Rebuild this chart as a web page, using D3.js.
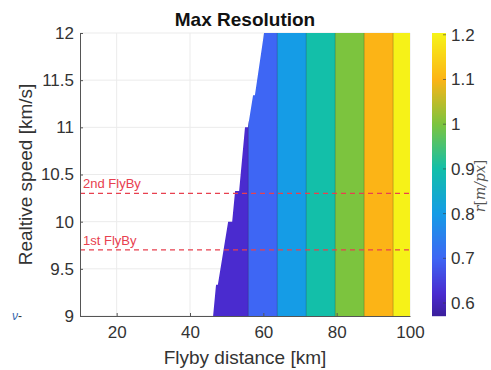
<!DOCTYPE html>
<html>
<head>
<meta charset="utf-8">
<script src="https://cdn.jsdelivr.net/npm/d3@7/dist/d3.min.js"></script>
<style>
  html, body { margin: 0; padding: 0; background: #fff; }
  svg { display: block; font-family: 'Liberation Sans', Arial, sans-serif; }
</style>
</head>
<body>
<div id="chart"></div>
<script>
const W = 491, H = 370

// axis ticks
const distTicks = [20, 40, 60, 80, 100]
const speedTicks = [9, 9.5, 10, 10.5, 11, 11.5, 12]
const cbTicks = [0.6, 0.7, 0.8, 0.9, 1, 1.1, 1.2]

// resolution bands (km) and their r value
const bandStart = [45, 55.9, 63.8, 71.7, 79.6, 87.5, 95.4]
const bandEnd   = [55.9, 63.8, 71.7, 79.6, 87.5, 95.4, 100]
const bandValue = [0.62, 0.7, 0.8, 0.9, 1.0, 1.1, 1.2]

// minimum reachable distance per speed (staircase left edge)
const edgeSpeed = [9.0, 9.33, 9.33, 10.0, 10.0, 10.325, 10.325, 11.0, 11.0, 11.34, 11.34, 12.0]
const edgeDist  = [46.3, 47.1, 47.6, 50.4, 51.5, 52.3, 53.4, 55.0, 55.8, 57.2, 57.7, 60.2]

// flyby speeds
const flybyNames = ['1st FlyBy', '2nd FlyBy']
const flybySpeed = [9.7, 10.3]

// parula-like colormap stops
const cmapVals = [0.571, 0.62, 0.7, 0.8, 0.9, 1.0, 1.1, 1.204]
const cmapCols = ['#3b1f9c', '#4a2bcf', '#3e66f4', '#159ce6', '#13bfa9', '#7cc43e', '#fcb416', '#f6f418']

const x = d3.scaleLinear().domain([10, 100]).range([80, 410])
const y = d3.scaleLinear().domain([9, 12]).range([316, 33])
const color = d3.scaleLinear().domain(cmapVals).range(cmapCols)
const cbY = d3.scaleLinear().domain([0.571, 1.204]).range([316, 33])

const svg = d3.select('#chart').append('svg')
  .attr('width', W).attr('height', H)

const textCol = '#333'

// grid
const grid = svg.append('g').attr('stroke', '#ebebeb').attr('stroke-width', 1)
for (const d of distTicks) {
  grid.append('line').attr('x1', x(d)).attr('x2', x(d)).attr('y1', y(9)).attr('y2', y(12))
}
for (const s of speedTicks) {
  grid.append('line').attr('x1', x(10)).attr('x2', x(100)).attr('y1', y(s)).attr('y2', y(s))
}

// clip region right of the staircase edge
const clipPts = edgeSpeed.map((s, i) => [x(edgeDist[i]), y(s)])
clipPts.push([x(100), y(12)], [x(100), y(9)])
svg.append('defs').append('clipPath').attr('id', 'reach')
  .append('polygon').attr('points', clipPts.map(p => p.join(',')).join(' '))

const bands = svg.append('g').attr('clip-path', 'url(#reach)')
bands.selectAll('rect').data(bandValue).enter().append('rect')
  .attr('x', (v, i) => x(bandStart[i]))
  .attr('width', (v, i) => x(bandEnd[i]) - x(bandStart[i]) + 0.5)
  .attr('y', y(12))
  .attr('height', y(9) - y(12))
  .attr('fill', v => color(v))
bands.selectAll('line').data(bandStart.slice(1)).enter().append('line')
  .attr('x1', d => x(d)).attr('x2', d => x(d))
  .attr('y1', y(12)).attr('y2', y(9))
  .attr('stroke', 'rgba(0,0,0,0.22)').attr('stroke-width', 1)

// flyby lines
flybySpeed.forEach((s, i) => {
  svg.append('line')
    .attr('x1', x(10)).attr('x2', x(100))
    .attr('y1', y(s)).attr('y2', y(s))
    .attr('stroke', '#e8404f').attr('stroke-width', 1.2)
    .attr('stroke-dasharray', '5,4')
  svg.append('text')
    .attr('x', x(10) + 3).attr('y', y(s) - 5)
    .attr('fill', '#e8404f').attr('font-size', 13)
    .text(flybyNames[i])
})

// axes
const xAxis = svg.append('g').attr('transform', `translate(0,${y(9)})`)
  .call(d3.axisBottom(x).tickValues(distTicks).tickSizeInner(-3).tickSizeOuter(0).tickPadding(10))
const yAxis = svg.append('g').attr('transform', `translate(${x(10)},0)`)
  .call(d3.axisLeft(y).tickValues(speedTicks).tickSizeInner(-3).tickSizeOuter(0).tickPadding(6).tickFormat(d3.format('')))
for (const ax of [xAxis, yAxis]) {
  ax.select('.domain').attr('stroke', '#555')
  ax.selectAll('.tick line').attr('stroke', '#555')
  ax.selectAll('.tick text').attr('fill', textCol).attr('font-size', 17)
    .attr('font-family', "'Liberation Sans', Arial, sans-serif")
}
xAxis.select('.tick:last-of-type line').remove()

// colorbar
const cb = svg.append('g')
const cbX = 432, cbW = 14
d3.range(33, 316, 1).forEach(py => {
  cb.append('rect')
    .attr('x', cbX).attr('y', py).attr('width', cbW).attr('height', 1.2)
    .attr('fill', color(cbY.invert(py + 0.5)))
})
cb.selectAll('.cbtick').data(cbTicks).enter().append('line')
  .attr('x1', cbX + cbW - 3).attr('x2', cbX + cbW)
  .attr('y1', d => cbY(d)).attr('y2', d => cbY(d))
  .attr('stroke', 'rgba(60,60,60,0.6)')
cb.selectAll('text').data(cbTicks).enter().append('text')
  .attr('x', 451).attr('y', d => cbY(d)).attr('dy', '0.35em')
  .attr('fill', textCol).attr('font-size', 17)
  .text(d => d3.format('')(d))

const cbLabel = svg.append('text')
  .attr('transform', 'translate(485,186) rotate(-90)')
  .attr('text-anchor', 'middle')
  .attr('fill', '#555').attr('font-size', 14)
  .attr('font-family', "'DejaVu Serif', 'Liberation Serif', serif")
cbLabel.append('tspan').attr('font-style', 'italic').text('r')
cbLabel.append('tspan').text('[')
cbLabel.append('tspan').attr('font-style', 'italic').text('m/px')
cbLabel.append('tspan').text(']')

// titles
svg.append('text')
  .attr('x', 245).attr('y', 26).attr('text-anchor', 'middle')
  .attr('font-size', 19).attr('font-weight', 'bold').attr('fill', '#111')
  .text('Max Resolution')
svg.append('text')
  .attr('x', 245).attr('y', 364).attr('text-anchor', 'middle')
  .attr('font-size', 19).attr('fill', textCol)
  .text('Flyby distance [km]')
svg.append('text')
  .attr('transform', `translate(32,${(y(9) + y(12)) / 2}) rotate(-90)`)
  .attr('text-anchor', 'middle')
  .attr('font-size', 19).attr('fill', textCol)
  .text('Realtive speed [km/s]')

// stray glyph at left edge of the figure
const stray = svg.append('text').attr('x', 12).attr('y', 320).attr('font-size', 12)
stray.append('tspan').attr('fill', '#3a6ab0').attr('font-style', 'italic').text('ν')
stray.append('tspan').attr('fill', '#333').text('-')
</script>
</body>
</html>
